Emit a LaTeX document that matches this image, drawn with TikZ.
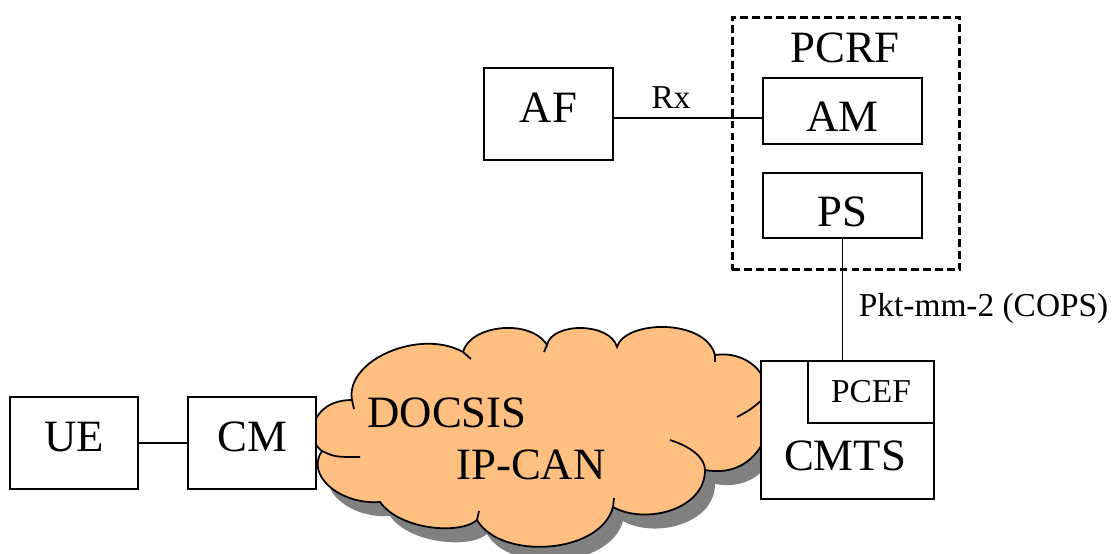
\documentclass[tikz,border=0pt]{standalone}
\usepackage{fontspec}
\setmainfont{Liberation Serif}
\definecolor{cloudorange}{RGB}{255,191,128}
\definecolor{cloudshadow}{RGB}{128,128,128}
\def\cloudoutline{(352,400) .. controls (345,360) and (420,328) .. (463,352)
  .. controls (470,325) and (530,318) .. (547,345)
  .. controls (552,322) and (610,322) .. (617,347)
  .. controls (625,320) and (705,318) .. (715,355)
  .. controls (745,350) and (775,375) .. (762,400)
  .. controls (780,420) and (760,480) .. (705,470)
  .. controls (705,510) and (645,525) .. (613,507)
  .. controls (600,555) and (500,560) .. (477,520)
  .. controls (460,535) and (400,530) .. (380,502)
  .. controls (340,505) and (305,475) .. (322,451)
  .. controls (305,440) and (310,400) .. (352,400) -- cycle}
\begin{document}
\begin{tikzpicture}[x=0.02cm,y=-0.02cm,line width=1pt,
    box/.style={draw,fill=white,inner sep=0pt},
    bigtext/.style={font=\fontsize{25.5}{30}\selectfont},
    smalltext/.style={font=\fontsize{19}{22}\selectfont},
    raised/.style={text depth=0.24cm},
    lowered/.style={text height=0.84cm}]
  \useasboundingbox (0,0) rectangle (1119,554);
  \fill[cloudshadow,shift={(10,14)}] \cloudoutline;
  \draw[fill=cloudorange] \cloudoutline;
  \draw (352,400) -- (354,409);
  \draw (322,451) .. controls (335,457) .. (360,457);
  \draw (477,520) -- (479,511);
  \draw (613,507) -- (614,498);
  \draw (670,440) .. controls (695,448) and (705,460) .. (705,470);
  \draw (737,417) .. controls (750,410) .. (762,400);
  \draw (715,355) -- (715,362);
  \draw (547,345) -- (544,352);
  \draw (463,352) -- (471,359);
  \node[bigtext] (docsis) at (447,427) [anchor=base] {DOCSIS};
  \node[bigtext] (ipcan) at (531,479) [anchor=base] {IP-CAN};
  \node[box,bigtext,raised,minimum width=2.56cm,minimum height=1.84cm] (ue) at (74,443) {UE};
  \node[box,bigtext,raised,minimum width=2.56cm,minimum height=1.84cm] (cm) at (252,443) {CM};
  \draw (ue.east) -- (cm.west);
  \node[box,bigtext,raised,minimum width=2.58cm,minimum height=1.84cm] (af) at (548.5,114) {AF};
  \node[draw,line width=1.7pt,dash pattern=on 4.5pt off 2.3pt,minimum width=4.56cm,minimum height=5.06cm] (pcrf) at (846,143.5) {};
  \node[bigtext,anchor=base] (pcrflabel) at (845,63) {PCRF};
  \node[box,bigtext,lowered,minimum width=3.18cm,minimum height=1.32cm] (am) at (842.5,111) {AM};
  \node[box,bigtext,lowered,minimum width=3.18cm,minimum height=1.30cm] (ps) at (842.5,205.5) {PS};
  \coordinate (rx) at (763,118);
  \draw (af.east |- rx) -- (rx);
  \node[smalltext,anchor=base] (rxlabel) at (671,109) {Rx};
  \node[box,minimum width=3.46cm,minimum height=2.76cm] (cmts) at (847.5,430) {};
  \node[bigtext,anchor=base] (cmtslabel) at (845,470) {CMTS};
  \node[box,smalltext,minimum width=2.52cm,minimum height=1.24cm] (pcef) at (871,392) {PCEF};
  \draw (ps.south) -- (ps.south |- cmts.north);
  \node[smalltext,anchor=base west,inner sep=0pt] (pktlabel) at (858,316) {Pkt-mm-2 (COPS)};
\end{tikzpicture}
\end{document}
